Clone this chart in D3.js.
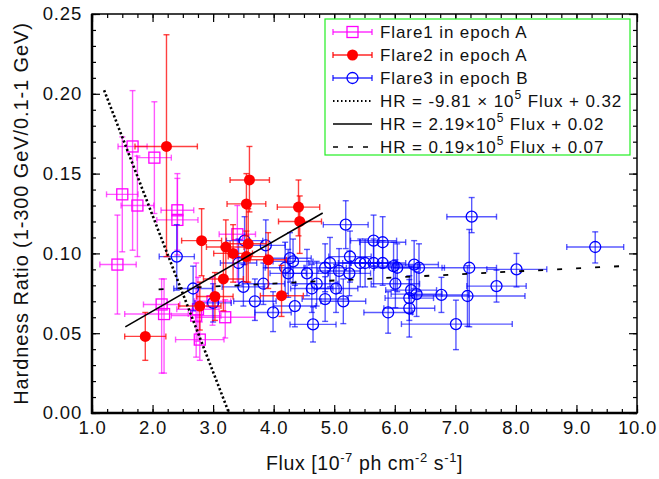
<!DOCTYPE html>
<html>
<head>
<meta charset="utf-8">
<script src="https://cdn.jsdelivr.net/npm/d3@7"></script>
<style>
  body { margin: 0; background: #fff; }
  svg { display: block; font-family: "Liberation Sans", Arial, Helvetica, sans-serif; }
</style>
</head>
<body>
<div id="chart"></div>
<script>
// Data: [flux, HR, fluxErrLo, fluxErrHi, hrErrLo, hrErrHi]
const flare1 = [
  [1.42, 0.093, 0.29, 0.31, 0.031, 0.031],
  [1.50, 0.137, 0.26, 0.26, 0.036, 0.036],
  [1.67, 0.167, 0.24, 0.24, 0.065, 0.035],
  [1.75, 0.130, 0.27, 0.27, 0.032, 0.031],
  [2.03, 0.160, 0.29, 0.28, 0.035, 0.035],
  [2.41, 0.127, 0.27, 0.27, 0.025, 0.023],
  [2.41, 0.121, 0.34, 0.34, 0.022, 0.026],
  [2.15, 0.068, 0.30, 0.30, 0.043, 0.016],
  [2.19, 0.062, 0.65, 0.40, 0.037, 0.022],
  [2.72, 0.061, 0.41, 0.41, 0.026, 0.033],
  [2.75, 0.065, 0.35, 0.35, 0.020, 0.020],
  [2.78, 0.046, 0.40, 0.40, 0.013, 0.011],
  [2.99, 0.070, 0.30, 0.30, 0.015, 0.015],
  [3.20, 0.060, 0.49, 0.49, 0.013, 0.011],
  [3.40, 0.112, 0.30, 0.30, 0.030, 0.018]
];

const flare2 = [
  [2.23, 0.167, 0.52, 0.51, 0.069, 0.070],
  [3.60, 0.146, 0.32, 0.33, 0.020, 0.021],
  [3.55, 0.131, 0.32, 0.32, 0.020, 0.019],
  [4.41, 0.129, 0.35, 0.35, 0.018, 0.017],
  [4.43, 0.120, 0.35, 0.36, 0.020, 0.016],
  [2.81, 0.108, 0.33, 0.33, 0.022, 0.020],
  [3.21, 0.104, 0.32, 0.30, 0.020, 0.017],
  [3.33, 0.100, 0.32, 0.32, 0.018, 0.018],
  [3.58, 0.106, 0.30, 0.30, 0.024, 0.022],
  [3.55, 0.098, 0.30, 0.32, 0.016, 0.016],
  [3.91, 0.096, 0.30, 0.30, 0.018, 0.017],
  [3.17, 0.084, 0.33, 0.33, 0.020, 0.020],
  [3.03, 0.073, 0.30, 0.30, 0.015, 0.015],
  [2.78, 0.067, 0.35, 0.35, 0.015, 0.015],
  [4.13, 0.0735, 0.35, 0.36, 0.013, 0.019],
  [1.88, 0.048, 0.34, 0.34, 0.015, 0.015]
];

const flare3 = [
  [2.40, 0.098, 0.29, 0.29, 0.021, 0.020],
  [2.67, 0.078, 0.32, 0.32, 0.014, 0.014],
  [3.00, 0.069, 0.30, 0.30, 0.012, 0.012],
  [3.42, 0.094, 0.30, 0.30, 0.014, 0.015],
  [3.50, 0.079, 0.35, 0.35, 0.012, 0.014],
  [3.52, 0.108, 0.30, 0.30, 0.015, 0.015],
  [3.69, 0.070, 0.35, 0.35, 0.012, 0.014],
  [3.83, 0.081, 0.35, 0.35, 0.013, 0.013],
  [3.87, 0.105, 0.32, 0.32, 0.014, 0.016],
  [3.99, 0.063, 0.30, 0.30, 0.012, 0.013],
  [4.19, 0.091, 0.33, 0.33, 0.016, 0.016],
  [4.24, 0.0875, 0.30, 0.30, 0.015, 0.015],
  [4.27, 0.097, 0.35, 0.35, 0.015, 0.016],
  [4.32, 0.095, 0.33, 0.33, 0.014, 0.014],
  [4.35, 0.067, 0.35, 0.35, 0.013, 0.013],
  [4.55, 0.0875, 0.35, 0.35, 0.014, 0.015],
  [4.63, 0.078, 0.35, 0.35, 0.015, 0.015],
  [4.65, 0.0555, 0.38, 0.38, 0.011, 0.011],
  [4.71, 0.081, 0.35, 0.35, 0.014, 0.014],
  [4.85, 0.091, 0.35, 0.35, 0.015, 0.015],
  [4.85, 0.0714, 0.38, 0.38, 0.014, 0.014],
  [4.93, 0.094, 0.35, 0.35, 0.015, 0.016],
  [5.03, 0.078, 0.36, 0.36, 0.015, 0.015],
  [5.08, 0.089, 0.35, 0.35, 0.014, 0.014],
  [5.15, 0.070, 0.37, 0.37, 0.014, 0.014],
  [5.19, 0.118, 0.37, 0.37, 0.015, 0.015],
  [5.25, 0.0875, 0.35, 0.35, 0.014, 0.014],
  [5.26, 0.098, 0.35, 0.35, 0.016, 0.016],
  [5.43, 0.094, 0.36, 0.36, 0.015, 0.015],
  [5.51, 0.094, 0.37, 0.37, 0.015, 0.015],
  [5.65, 0.108, 0.38, 0.38, 0.016, 0.016],
  [5.65, 0.094, 0.38, 0.38, 0.015, 0.015],
  [5.80, 0.107, 0.38, 0.38, 0.016, 0.016],
  [5.80, 0.094, 0.38, 0.38, 0.014, 0.014],
  [5.98, 0.092, 0.40, 0.40, 0.015, 0.015],
  [6.04, 0.091, 0.38, 0.38, 0.015, 0.015],
  [6.01, 0.081, 0.40, 0.40, 0.015, 0.015],
  [5.89, 0.063, 0.40, 0.40, 0.013, 0.013],
  [6.24, 0.072, 0.40, 0.40, 0.014, 0.014],
  [6.27, 0.077, 0.42, 0.42, 0.015, 0.015],
  [6.24, 0.0656, 0.42, 0.42, 0.018, 0.018],
  [6.32, 0.093, 0.40, 0.40, 0.015, 0.015],
  [6.36, 0.0745, 0.42, 0.42, 0.014, 0.014],
  [6.40, 0.091, 0.42, 0.42, 0.015, 0.015],
  [6.77, 0.074, 0.45, 0.45, 0.011, 0.011],
  [7.01, 0.0557, 0.90, 0.93, 0.016, 0.015],
  [7.20, 0.0733, 0.97, 0.95, 0.019, 0.019],
  [7.23, 0.091, 0.45, 0.45, 0.037, 0.024],
  [7.27, 0.123, 0.41, 0.41, 0.010, 0.012],
  [7.68, 0.0795, 0.49, 0.49, 0.010, 0.010],
  [8.01, 0.090, 0.49, 0.50, 0.011, 0.010],
  [9.31, 0.104, 0.47, 0.47, 0.010, 0.0095]
];

// Linear fits: [slope per 1e-7 flux unit, intercept, fluxStart, fluxEnd]
const fitDotted = [-0.0981, 0.32, 1.2, 3.26];
const fitSolid = [0.0219, 0.02, 1.55, 4.81];
const fitDashed = [0.0019, 0.0735, 2.1, 9.85];

const xTicks = [1, 2, 3, 4, 5, 6, 7, 8, 9, 10];
const yTicks = [0, 0.05, 0.10, 0.15, 0.20, 0.25];

const legendLabels = [
  "Flare1 in epoch A",
  "Flare2 in epoch A",
  "Flare3 in epoch B"
];
const fitLabels = [
  ["HR = -9.81 \u00d7 10", "5", " Flux + 0.32"],
  ["HR = 2.19\u00d710", "5", " Flux + 0.02"],
  ["HR = 0.19\u00d710", "5", " Flux + 0.07"]
];

// Layout
const W = 659, H = 479;
const margin = { top: 14, right: 22, bottom: 66, left: 92 };
const width = W - margin.left - margin.right;
const height = 413 - margin.top;

const svg = d3.select("#chart").append("svg")
  .attr("width", W).attr("height", H);

const x = d3.scaleLinear().domain([1, 10]).range([margin.left, margin.left + width]);
const y = d3.scaleLinear().domain([0, 0.25]).range([margin.top + height, margin.top]);

const x0 = margin.left, x1 = margin.left + width;
const y0 = margin.top + height, y1 = margin.top;

// Minor ticks
const xMinor = d3.range(1, 10.001, 0.25);
const yMinor = d3.range(0, 0.2501, 0.01);

function tickAxis(axisFn, scale, values, size, transformStr) {
  const g = svg.append("g").attr("transform", transformStr)
    .call(axisFn(scale).tickValues(values).tickSize(size).tickFormat(""));
  g.select(".domain").remove();
  g.selectAll(".tick line").attr("stroke", "#000").attr("stroke-width", 1.2);
  return g;
}

// inward ticks (negative size)
tickAxis(d3.axisBottom, x, xMinor, -4, `translate(0,${y0})`);
tickAxis(d3.axisBottom, x, xTicks, -8, `translate(0,${y0})`);
tickAxis(d3.axisTop, x, xMinor, -4, `translate(0,${y1})`);
tickAxis(d3.axisTop, x, xTicks, -8, `translate(0,${y1})`);
tickAxis(d3.axisLeft, y, yMinor, -4, `translate(${x0},0)`);
tickAxis(d3.axisLeft, y, yTicks, -8, `translate(${x0},0)`);
tickAxis(d3.axisRight, y, yMinor, -4, `translate(${x1},0)`);
tickAxis(d3.axisRight, y, yTicks, -8, `translate(${x1},0)`);

// Tick labels
const xLab = svg.append("g").attr("transform", `translate(0,${y0})`)
  .call(d3.axisBottom(x).tickValues(xTicks).tickSize(0).tickPadding(21).tickFormat(d3.format(".1f")));
xLab.select(".domain").remove();
xLab.selectAll("text").attr("font-size", "18.5px").attr("fill", "#111")
  .attr("letter-spacing", "0.8px").attr("dy", 0).attr("font-family", "inherit");

const yLab = svg.append("g").attr("transform", `translate(${x0},0)`)
  .call(d3.axisLeft(y).tickValues(yTicks).tickSize(0).tickPadding(10).tickFormat(d3.format(".2f")));
yLab.select(".domain").remove();
yLab.selectAll("text").attr("font-size", "18.5px").attr("fill", "#111")
  .attr("letter-spacing", "0.8px").attr("font-family", "inherit");

// Fit lines
function fitLine(fit, dash, width) {
  const pts = [fit[2], fit[3]].map(f => [x(f), y(fit[0] * f + fit[1])]);
  svg.append("path")
    .attr("d", d3.line()(pts))
    .attr("fill", "none")
    .attr("stroke", "#000")
    .attr("stroke-width", width)
    .attr("stroke-dasharray", dash);
}

// Error bars + markers
function drawSeries(data, errColor, marker) {
  const g = svg.append("g");
  const cap = 3;
  data.forEach(d => {
    const cx = x(d[0]), cy = y(d[1]);
    const xl = x(d[0] - d[2]), xr = x(d[0] + d[3]);
    const yt = y(d[1] + d[5]), yb = y(d[1] - d[4]);
    const e = g.append("g").attr("stroke", errColor).attr("stroke-width", 1.4).attr("fill", "none");
    e.append("line").attr("x1", xl).attr("x2", xr).attr("y1", cy).attr("y2", cy);
    e.append("line").attr("x1", xl).attr("x2", xl).attr("y1", cy - cap).attr("y2", cy + cap);
    e.append("line").attr("x1", xr).attr("x2", xr).attr("y1", cy - cap).attr("y2", cy + cap);
    e.append("line").attr("x1", cx).attr("x2", cx).attr("y1", yt).attr("y2", yb);
    e.append("line").attr("x1", cx - cap).attr("x2", cx + cap).attr("y1", yt).attr("y2", yt);
    e.append("line").attr("x1", cx - cap).attr("x2", cx + cap).attr("y1", yb).attr("y2", yb);
  });
  data.forEach(d => marker(g, x(d[0]), y(d[1])));
}

function squareMarker(color) {
  return (g, cx, cy) => g.append("rect")
    .attr("x", cx - 5.5).attr("y", cy - 5.5).attr("width", 11).attr("height", 11)
    .attr("fill", "none").attr("stroke", color).attr("stroke-width", 1.3);
}
function dotMarker(color) {
  return (g, cx, cy) => g.append("circle")
    .attr("cx", cx).attr("cy", cy).attr("r", 5.5).attr("fill", color);
}
function ringMarker(color) {
  return (g, cx, cy) => g.append("circle")
    .attr("cx", cx).attr("cy", cy).attr("r", 5.5)
    .attr("fill", "none").attr("stroke", color).attr("stroke-width", 1.3);
}

drawSeries(flare1, "rgba(255,0,255,0.65)", squareMarker("#ff00ff"));
drawSeries(flare3, "rgba(0,0,255,0.65)", ringMarker("#0000ff"));
drawSeries(flare2, "rgba(255,0,0,0.75)", dotMarker("#ff0000"));

fitLine(fitDotted, "2.2,2.3", 2.6);
fitLine(fitSolid, null, 1.6);
fitLine(fitDashed, "5,14", 1.8);

// Frame
svg.append("rect")
  .attr("x", x0).attr("y", y1).attr("width", width).attr("height", height)
  .attr("fill", "none").attr("stroke", "#000").attr("stroke-width", 1.5);
svg.append("line").attr("x1", x0).attr("x2", x0).attr("y1", y1).attr("y2", y0 + 1)
  .attr("stroke", "#000").attr("stroke-width", 2.5);
svg.append("line").attr("x1", x0 - 1).attr("x2", x1).attr("y1", y0).attr("y2", y0)
  .attr("stroke", "#000").attr("stroke-width", 2.5);

// Axis titles
const xt = svg.append("text")
  .attr("x", (x0 + x1) / 2).attr("y", 470)
  .attr("text-anchor", "middle").attr("font-size", "19.5px").attr("fill", "#111")
  .attr("letter-spacing", "0.6px");
xt.append("tspan").text("Flux [10");
xt.append("tspan").attr("dy", -8).attr("font-size", "13px").text("-7");
xt.append("tspan").attr("dy", 8).text(" ph cm");
xt.append("tspan").attr("dy", -8).attr("font-size", "13px").text("-2");
xt.append("tspan").attr("dy", 8).text(" s");
xt.append("tspan").attr("dy", -8).attr("font-size", "13px").text("-1");
xt.append("tspan").attr("dy", 8).text("]");

svg.append("text")
  .attr("transform", `translate(28,${(y0 + y1) / 2}) rotate(-90)`)
  .attr("text-anchor", "middle").attr("font-size", "20px").attr("fill", "#111")
  .attr("letter-spacing", "0.9px")
  .text("Hardness Ratio (1-300 GeV/0.1-1 GeV)");

// Legend
const lg = svg.append("g");
lg.append("rect")
  .attr("x", 325).attr("y", 19).attr("width", 305).attr("height", 136)
  .attr("fill", "#fff").attr("stroke", "#22ee22").attr("stroke-width", 1.2);

const rowY = d3.range(6).map(i => 32 + i * 23);
const seriesStyles = [
  ["rgba(255,0,255,0.8)", squareMarker("#ff00ff")],
  ["rgba(255,0,0,0.85)", dotMarker("#ff0000")],
  ["rgba(0,0,255,0.8)", ringMarker("#0000ff")]
];
legendLabels.forEach((lab, i) => {
  const cy = rowY[i];
  const e = lg.append("g").attr("stroke", seriesStyles[i][0]).attr("stroke-width", 1.4);
  e.append("line").attr("x1", 333).attr("x2", 372).attr("y1", cy).attr("y2", cy);
  e.append("line").attr("x1", 333).attr("x2", 333).attr("y1", cy - 3).attr("y2", cy + 3);
  e.append("line").attr("x1", 372).attr("x2", 372).attr("y1", cy - 3).attr("y2", cy + 3);
  seriesStyles[i][1](lg, 352.5, cy);
  lg.append("text").attr("x", 380).attr("y", cy + 6)
    .attr("font-size", "17px").attr("fill", "#111").attr("letter-spacing", "0.9px").text(lab);
});

const fitDash = [["1.5,2.5", 2], [null, 1.5], ["5,10", 1.5]];
fitLabels.forEach((parts, i) => {
  const cy = rowY[i + 3];
  lg.append("line").attr("x1", 333).attr("x2", 372).attr("y1", cy).attr("y2", cy)
    .attr("stroke", "#000").attr("stroke-width", fitDash[i][1])
    .attr("stroke-dasharray", fitDash[i][0]);
  const t = lg.append("text").attr("x", 380).attr("y", cy + 6)
    .attr("font-size", "17px").attr("fill", "#111").attr("letter-spacing", "0.9px");
  t.append("tspan").text(parts[0]);
  t.append("tspan").attr("dy", -8).attr("font-size", "12px").text(parts[1]);
  t.append("tspan").attr("dy", 8).text(parts[2]);
});
</script>
</body>
</html>
